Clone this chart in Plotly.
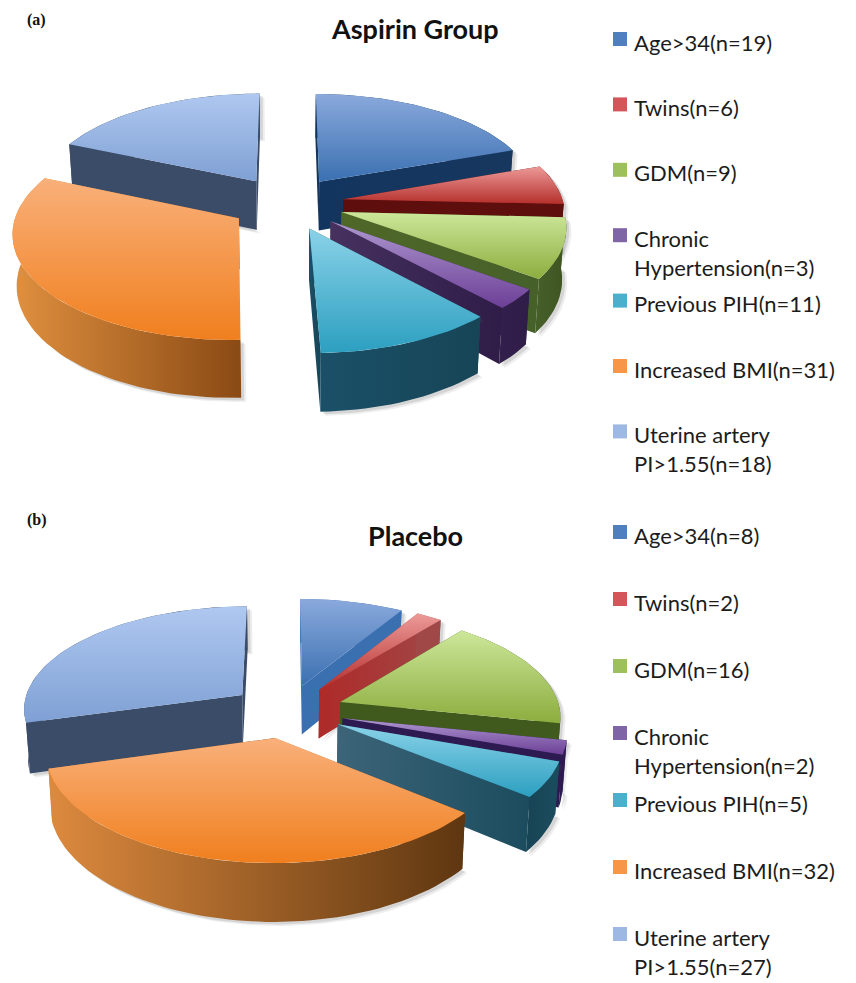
import math
import plotly.graph_objects as go

# Risk-factor counts per study arm
categories = ["Age>34", "Twins", "GDM", "Chronic<br>Hypertension", "Previous PIH",
              "Increased BMI", "Uterine artery<br>PI>1.55"]
aspirin_counts = [19, 6, 9, 3, 11, 31, 18]
placebo_counts = [8, 2, 16, 2, 5, 32, 27]

# Shading for each slice: lit top face (back edge, front edge)
top_back = ["#8AA9DC", "#EC9A98", "#CDE79A", "#AE98CF", "#8AD2E8", "#F9B07A", "#AFC8F0"]
top_front = ["#3B70B1", "#B52F2C", "#8CAD3E", "#6C3F97", "#2C9FC0", "#F07F1E", "#7FA0D4"]
swatches = ["#4F7FBF", "#D4555A", "#9DBF5C", "#7F64A6", "#4BB0CC", "#F79646", "#9DB8E2"]

# Radial side-wall shading (left, right) for each arm
sides_a = [("#12355F", "#17375E"), ("#5E0E0C", "#5E0E0C"), ("#4F6828", "#46602A"),
           ("#46315F", "#2F1C47"), ("#1A5068", "#174556"), ("#E0903F", "#8A4A14"),
           ("#3B4C68", "#3B4C68")]
sides_b = [("#3A6FB0", "#3A6FB0"), ("#AE2A28", "#A04848"), ("#3F5A1C", "#3F5A1C"),
           ("#2C1A50", "#2C1A50"), ("#3D6478", "#1B4C5E"), ("#DD8A3E", "#5E3610"),
           ("#3B4C68", "#3B4C68")]
# Curved outer-wall shading (left, right) for each arm
rims_a = [("#12355F", "#17375E"), ("#5E0E0C", "#5E0E0C"), ("#46602A", "#3E5420"),
          ("#331F4C", "#2F1C47"), ("#1A5068", "#174556"), ("#E0903F", "#8A4A14"),
          ("#3B4C68", "#3B4C68")]
rims_b = [("#3A6FB0", "#3A6FB0"), ("#A04848", "#A04848"), ("#3F5A1C", "#3F5A1C"),
          ("#2C1A50", "#2C1A50"), ("#174454", "#1B4C5E"), ("#DD8A3E", "#5E3610"),
          ("#3B4C68", "#3B4C68")]

# Projection of the exploded pie onto the page
RX, RY = 220.0, 103.0
PERSPECTIVE = 0.12
EXPLODE = 0.26
DEPTH = 50.0
TAPER = 0.985
ARC_STEP = 2.0
SHADOW_OFFSETS = [(5, 4, 0.10), (3, 2.5, 0.16)]


def project(px, py, cx, cy):
    s = 1.0 / (1.0 - PERSPECTIVE * py)
    return cx + RX * px * s, cy + RY * py * s, s


def drop(px, py, cx, cy):
    x, y, s = project(px, py, cx, cy)
    return cx + (x - cx) * TAPER, y + DEPTH * s


def add_face(fig, pts, c0, c1, orientation):
    xs = [p[0] for p in pts]
    ys = [p[1] for p in pts]
    fig.add_trace(go.Scatter(
        x=xs + xs[:1], y=ys + ys[:1], mode="lines", line=dict(width=0), fill="toself",
        fillgradient=dict(type=orientation, colorscale=[[0, c0], [1, c1]]),
        hoverinfo="skip", showlegend=False,
    ))


def add_shadow(fig, pts):
    for dx, dy, alpha in SHADOW_OFFSETS:
        xs = [p[0] + dx for p in pts]
        ys = [p[1] + dy for p in pts]
        fig.add_trace(go.Scatter(
            x=xs + xs[:1], y=ys + ys[:1], mode="lines", line=dict(width=0), fill="toself",
            fillcolor=f"rgba(90,90,90,{alpha})", hoverinfo="skip", showlegend=False,
        ))


def add_pie(fig, counts, sides, rims, cx, cy):
    total = sum(counts)
    order = []
    start = 0.0
    for i, n in enumerate(counts):
        sweep = 360.0 * n / total
        order.append((i, start, start + sweep))
        start += sweep

    def centroid_y(item):
        mid = math.radians((item[1] + item[2]) / 2)
        return -math.cos(mid)

    for i, a0, a1 in sorted(order, key=centroid_y):
        mid = math.radians((a0 + a1) / 2)
        ox, oy = EXPLODE * math.sin(mid), -EXPLODE * math.cos(mid)
        steps = max(2, int((a1 - a0) / ARC_STEP))
        rim = []
        for k in range(steps + 1):
            t = math.radians(a0 + (a1 - a0) * k / steps)
            rim.append((ox + math.sin(t), oy - math.cos(t)))
        apex = (ox, oy)

        top_pt = project(*apex, cx, cy)[:2]
        low_pt = drop(*apex, cx, cy)
        upper = [project(*p, cx, cy)[:2] for p in rim]
        lower = [drop(*p, cx, cy) for p in rim]

        # Soft cast shadow under the wedge's lower outline
        add_shadow(fig, [low_pt] + lower + upper[::-1])

        # Radial side walls, then the curved outer wall, then the top face
        for upper_pt, lower_pt in ((upper[0], lower[0]), (upper[-1], lower[-1])):
            add_face(fig, [top_pt, upper_pt, lower_pt, low_pt], *sides[i], "horizontal")
        add_face(fig, upper + lower[::-1], *rims[i], "horizontal")
        # The y axis runs downward, so the scale starts at the front edge
        add_face(fig, [top_pt] + upper, top_front[i], top_back[i], "vertical")


def add_key(fig, counts, y0, step):
    for i, (name, n) in enumerate(zip(categories, counts)):
        y = y0 + step * i
        fig.add_trace(go.Scatter(
            x=[620], y=[y - 3], mode="markers",
            marker=dict(symbol="square", size=14, color=swatches[i], line=dict(width=0)),
            hoverinfo="skip", showlegend=False,
        ))
        lines = f"{name}(n={n})".split("<br>")
        for j, line in enumerate(lines):
            fig.add_annotation(
                x=632, y=y + 29 * j, text=line, showarrow=False, xanchor="left", yanchor="middle",
                font=dict(family="Lato", size=22, color="#1c1c1c"),
            )


fig = go.Figure()
add_pie(fig, aspirin_counts, sides_a, rims_a, 287, 203)
add_pie(fig, placebo_counts, sides_b, rims_b, 287, 711)
add_key(fig, aspirin_counts, 42, 65.4)
add_key(fig, placebo_counts, 535, 67.0)

for text, x, y in [("Aspirin Group", 415, 28), ("Placebo", 415, 535)]:
    fig.add_annotation(x=x, y=y, text=f"<b>{text}</b>", showarrow=False,
                       font=dict(family="Lato", size=27, color="#111111"))
for text, y in [("(a)", 20), ("(b)", 520)]:
    fig.add_annotation(x=25, y=y, text=f"<b>{text}</b>", showarrow=False, xanchor="left",
                       font=dict(family="Liberation Serif", size=16, color="#111111"))

fig.update_layout(
    width=856, height=983, margin=dict(l=0, r=0, t=0, b=0),
    paper_bgcolor="white", plot_bgcolor="white", showlegend=False,
    xaxis=dict(range=[0, 856], visible=False, fixedrange=True),
    yaxis=dict(range=[983, 0], visible=False, fixedrange=True),
)
fig.write_html("out.html", config=dict(displayModeBar=False))
